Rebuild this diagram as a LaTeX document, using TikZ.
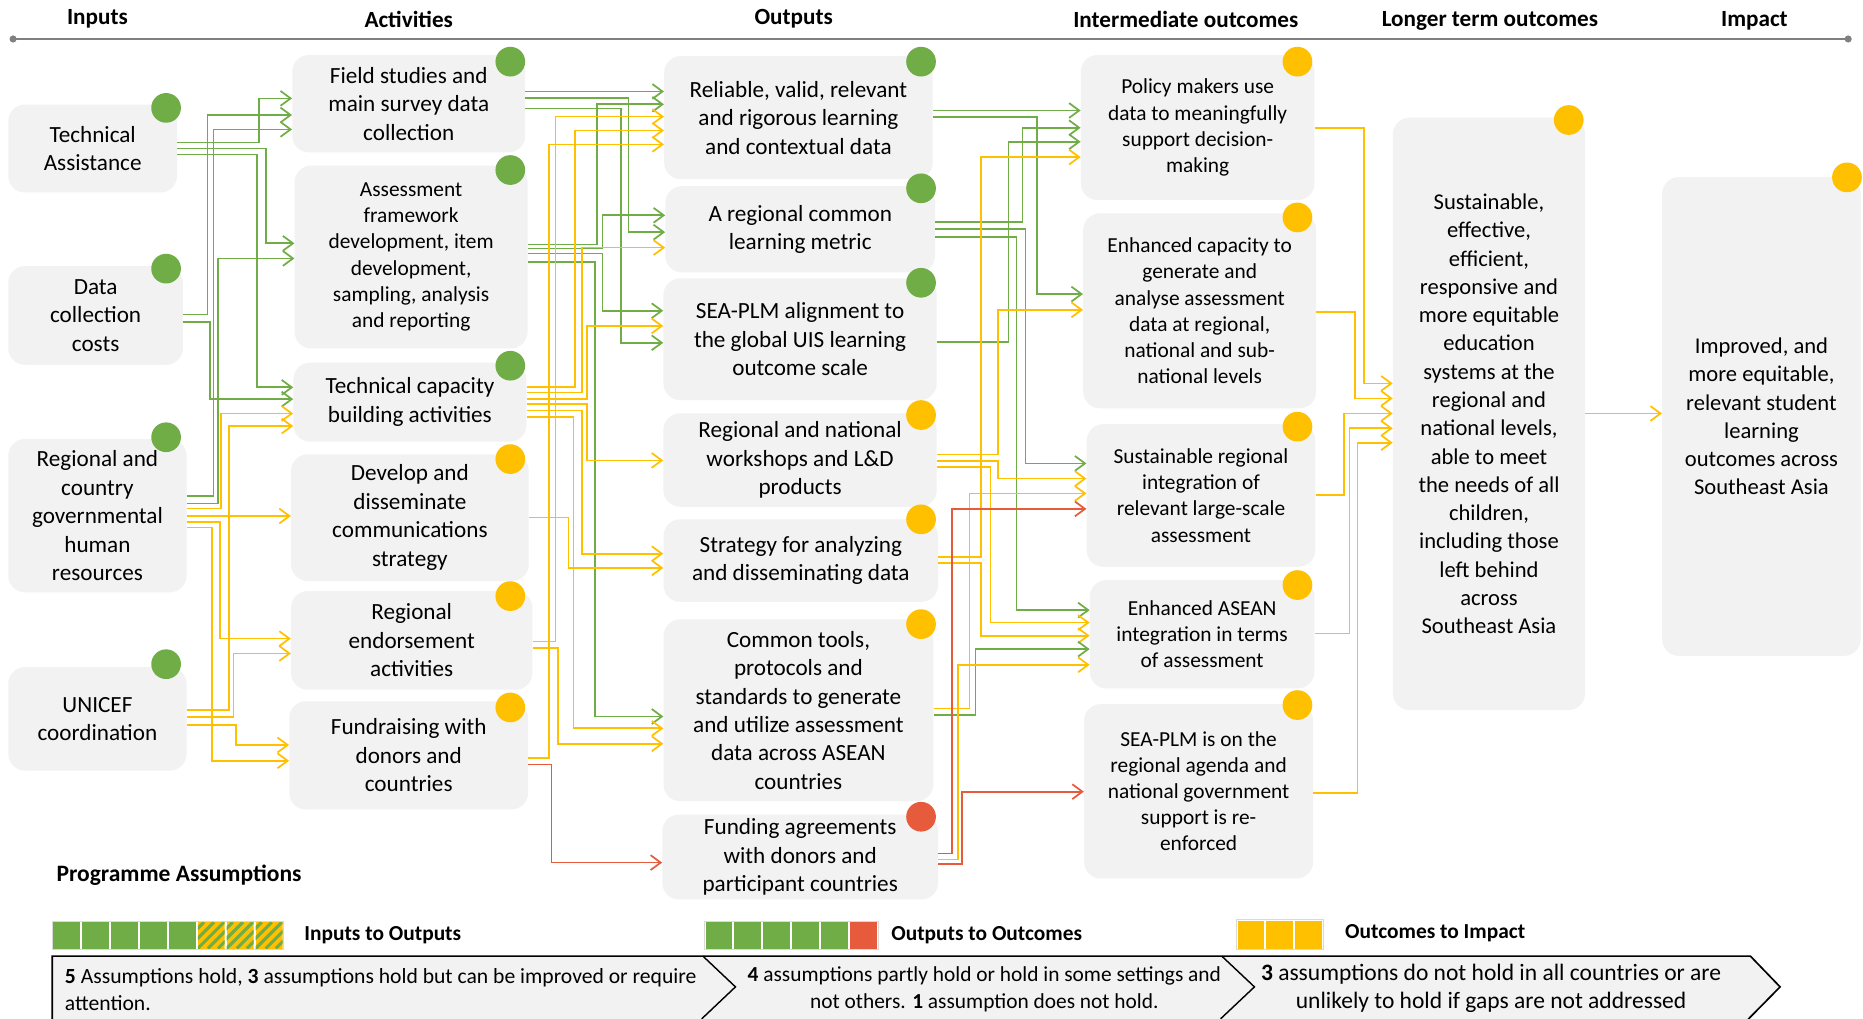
\documentclass[tikz,border=0pt]{standalone}
\usepackage{fontspec}
\setmainfont{Carlito}
\usetikzlibrary{arrows.meta}

\definecolor{tgreen}{HTML}{70AD47}
\definecolor{tyellow}{HTML}{FFC000}
\definecolor{tred}{HTML}{E55B3C}
\definecolor{boxgray}{HTML}{F2F2F2}
\definecolor{rulegray}{HTML}{808080}
\definecolor{legframe}{HTML}{D9D9D9}

\newcommand\fsz[2]{\fontsize{#1}{#2}\selectfont}
% elbow connector: colour, source, start y, bend x, end y, target
\newcommand\cnx[6]{\draw[conn,#1] (#2.east |- 0,#3) -| (#4,#5) -- (#6.west |- 0,#5);}
% straight connector: colour, source, y, target
\newcommand\cst[4]{\draw[conn,#1] (#2.east |- 0,#3) -- (#4.west |- 0,#3);}
% status dot: colour, x, y
\newcommand\stdot[3]{\fill[#1] (#2,#3) circle[radius=12.5pt];}

\tikzset{
  box/.style={fill=boxgray, rounded corners=14pt, align=center, inner sep=0pt, text=black},
  inbox/.style={box, font=\fsz{19.5}{24}},
  midbox/.style={box, font=\fsz{18}{22}},
  outbox/.style={box, font=\fsz{18}{22}},
  bigbox/.style={box, font=\fsz{19}{23.8}},
  hdr/.style={font=\bfseries\fsz{19.5}{23}, inner sep=0pt},
  legtitle/.style={font=\bfseries\fsz{18}{22}, inner sep=0pt, anchor=west},
  conn/.style={line width=1.45pt, -{Straight Barb[length=8.5pt,width=12.5pt]}},
}

\begin{document}
\begin{tikzpicture}[x=1pt,y=-1pt]
\useasboundingbox (0,0) rectangle (1568,857);
\fill[white] (0,0) rectangle (1568,857);

% ---------- column headings and timeline rule ----------
\draw[rulegray, line width=2.2pt] (11,32.8) -- (1555.5,32.8);
\fill[rulegray] (11,32.8) circle[radius=3pt];
\fill[rulegray] (1555.5,32.8) circle[radius=3pt];
\node[hdr] (h1) at (82,16) {Inputs};
\node[hdr] (h2) at (344,16) {Activities};
\node[hdr] (h3) at (668,16) {Outputs};
\node[hdr] (h4) at (998,16) {Intermediate outcomes};
\node[hdr] (h5) at (1254,17.4) {Longer term outcomes};
\node[hdr] (h6) at (1476.6,17.4) {Impact};

% ---------- inputs ----------
\node[inbox, minimum width=142pt, minimum height=74pt] (ta) at (78,125) {Technical\\Assistance};
\node[inbox, minimum width=147pt, minimum height=83pt] (dcc) at (80.5,265.5) {Data\\collection\\costs};
\node[inbox, minimum width=150pt, minimum height=129pt] (rg) at (82,434) {Regional and\\country\\governmental\\human\\resources};
\node[inbox, minimum width=150pt, minimum height=87pt] (uc) at (82,605) {UNICEF\\coordination};

% ---------- activities ----------
\node[inbox, minimum width=196pt, minimum height=82pt] (fs) at (344,87.3) {Field studies and\\main survey data\\collection};
\node[midbox, minimum width=196pt, minimum height=154pt] (af) at (346,216.3) {Assessment\\framework\\development, item\\development,\\sampling, analysis\\and reporting};
\node[inbox, minimum width=196pt, minimum height=66.5pt] (tc) at (345,338.5) {Technical capacity\\building activities};
\node[inbox, minimum width=200pt, minimum height=106.6pt] (dd) at (345,435.7) {Develop and\\disseminate\\communications\\strategy};
\node[inbox, minimum width=203pt, minimum height=83pt] (re) at (346.5,539) {Regional\\endorsement\\activities};
\node[inbox, minimum width=201pt, minimum height=91pt] (fr) at (344,635.7) {Fundraising with\\donors and\\countries};

% ---------- outputs ----------
\node[inbox, minimum width=226pt, minimum height=103.6pt] (rel) at (672,99) {Reliable, valid, relevant\\and rigorous learning\\and contextual data};
\node[inbox, minimum width=227pt, minimum height=72.5pt] (rcm) at (673.5,193) {A regional common\\learning metric};
\node[inbox, minimum width=230pt, minimum height=102.4pt] (sea) at (673.4,285.5) {SEA-PLM alignment to\\the global UIS learning\\outcome scale};
\node[inbox, minimum width=230pt, minimum height=78.6pt] (ws) at (673.4,387.2) {Regional and national\\workshops and L\&D\\products};
\node[inbox, minimum width=231pt, minimum height=69.4pt] (st) at (674,471.8) {Strategy for analyzing\\and disseminating data};
\node[box, font=\fsz{19.5}{23.85}, minimum width=227pt, minimum height=153pt] (ct) at (672,597.8) {Common tools,\\protocols and\\standards to generate\\and utilize assessment\\data across ASEAN\\countries};
\node[inbox, minimum width=232pt, minimum height=71.5pt] (fa) at (673.5,721.3) {Funding agreements\\with donors and\\participant countries};

% ---------- intermediate outcomes ----------
\node[outbox, minimum width=196.6pt, minimum height=122pt] (pm) at (1008,107.3) {Policy makers use\\data to meaningfully\\support decision-\\making};
\node[outbox, minimum width=196pt, minimum height=164pt] (ec) at (1009.7,261.6) {Enhanced capacity to\\generate and\\analyse assessment\\data at regional,\\national and sub-\\national levels};
\node[outbox, minimum width=192.4pt, minimum height=120pt] (sr) at (1010.8,417) {Sustainable regional\\integration of\\relevant large-scale\\assessment};
\node[outbox, minimum width=189pt, minimum height=91.2pt] (ea) at (1011.8,533.8) {Enhanced ASEAN\\integration in terms\\of assessment};
\node[outbox, minimum width=192.8pt, minimum height=146.7pt] (sp) at (1008.8,666) {SEA-PLM is on the\\regional agenda and\\national government\\support is re-\\enforced};

% ---------- longer term outcome and impact ----------
\node[bigbox, minimum width=161.7pt, minimum height=498.6pt] (lt) at (1253.2,348.3) {Sustainable,\\effective,\\efficient,\\responsive and\\more equitable\\education\\systems at the\\regional and\\national levels,\\able to meet\\the needs of all\\children,\\including those\\left behind\\across\\Southeast Asia};
\node[bigbox, minimum width=167pt, minimum height=403pt] (im) at (1482.5,350.5) {Improved, and\\more equitable,\\relevant student\\learning\\outcomes across\\Southeast Asia};

% ---------- status dots ----------
\stdot{tgreen}{139.8}{90.8}
\stdot{tgreen}{139.8}{226.1}
\stdot{tgreen}{139.8}{368}
\stdot{tgreen}{139.8}{559}
\stdot{tgreen}{429.5}{51.9}
\stdot{tgreen}{429.5}{143.1}
\stdot{tgreen}{429.5}{307.8}
\stdot{tyellow}{429.5}{386.4}
\stdot{tyellow}{429.5}{501.7}
\stdot{tyellow}{429.5}{595.4}
\stdot{tgreen}{775.2}{51.9}
\stdot{tgreen}{775.2}{158.5}
\stdot{tgreen}{775.2}{238}
\stdot{tyellow}{775.2}{349.3}
\stdot{tyellow}{775.2}{437.1}
\stdot{tyellow}{775.2}{525.3}
\stdot{tred}{775.2}{687.4}
\stdot{tyellow}{1092}{51.9}
\stdot{tyellow}{1092}{183}
\stdot{tyellow}{1092}{359.1}
\stdot{tyellow}{1092}{492.4}
\stdot{tyellow}{1092}{593.4}
\stdot{tyellow}{1320.3}{101}
\stdot{tyellow}{1554.5}{149.3}

% ---------- inputs -> activities ----------
\cnx{tgreen}{ta}{120}{218}{82.8}{fs}
\cnx{tgreen}{ta}{125}{223.6}{204.8}{af}
\cnx{tgreen}{ta}{130}{216}{326}{tc}
\cnx{tgreen}{dcc}{264.6}{174.7}{96.8}{fs}
\cnx{tgreen}{dcc}{270.8}{176.6}{335.9}{tc}
\cnx{tgreen}{rg}{417.5}{179.6}{108.9}{fs}
\cnx{tgreen}{rg}{423.7}{183.2}{217.5}{af}
\cnx{tyellow}{rg}{427.9}{186.2}{348}{tc}
\cst{tyellow}{rg}{434.3}{dd}
\cnx{tyellow}{rg}{439.1}{185}{537.5}{re}
\cnx{tyellow}{rg}{443.9}{178.5}{640.3}{fr}
\cnx{tyellow}{uc}{597.6}{192.8}{358.6}{tc}
\cnx{tyellow}{uc}{603.3}{196.5}{550}{re}
\cnx{tyellow}{uc}{610.3}{198.5}{627}{fr}

% ---------- activities -> outputs ----------
\cst{tgreen}{fs}{77}{rel}
\cnx{tgreen}{fs}{82.5}{529}{195.4}{rcm}
\cnx{tgreen}{fs}{91.2}{522.7}{288.5}{sea}
\cnx{tgreen}{af}{205.7}{502.2}{87.8}{rel}
\cnx{tgreen}{af}{209.2}{507}{181.2}{rcm}
\cnx{tgreen}{af}{213.4}{507}{261.5}{sea}
\cnx{tgreen}{af}{220.3}{500.8}{603}{ct}
\cnx{tyellow}{tc}{326}{484}{109.8}{rel}
\cnx{tyellow}{tc}{330.4}{489.6}{208.4}{rcm}
\cnx{tyellow}{tc}{335.6}{493.8}{274.3}{sea}
\cnx{tyellow}{tc}{340}{493.8}{387.5}{ws}
\cnx{tyellow}{tc}{345.6}{489.6}{466}{st}
\cnx{tyellow}{tc}{350.8}{482.6}{613}{ct}
\cnx{tyellow}{dd}{435.5}{478.4}{478}{st}
\cnx{tyellow}{re}{540}{467.5}{98.1}{rel}
\cnx{tyellow}{re}{545.5}{469.8}{626}{ct}
\cnx{tyellow}{fr}{638}{461.8}{121.5}{rel}
\cnx{tred}{fr}{643.5}{464.2}{726}{fa}

% ---------- outputs -> intermediate outcomes ----------
\cst{tgreen}{rel}{93}{pm}
\cnx{tgreen}{rel}{98.2}{873}{247.5}{ec}
\cnx{tgreen}{rcm}{186.6}{860.5}{107.5}{pm}
\cnx{tgreen}{rcm}{193}{863}{390}{sr}
\cnx{tgreen}{rcm}{199.2}{855.5}{513.5}{ea}
\cnx{tgreen}{sea}{287.6}{848.8}{119.3}{pm}
\cnx{tyellow}{ws}{382.5}{839.8}{260.8}{ec}
\cnx{tyellow}{ws}{388}{839.8}{402.8}{sr}
\cnx{tyellow}{ws}{392.8}{833.7}{524}{ea}
\cnx{tyellow}{st}{468.6}{825.5}{132.2}{pm}
\cnx{tyellow}{st}{473.6}{825.5}{535}{ea}
\cnx{tyellow}{ct}{596.2}{816}{415.3}{sr}
\cnx{tgreen}{ct}{601.9}{821}{546.3}{ea}
\cnx{tred}{fa}{718.3}{801.3}{428.3}{sr}
\cnx{tyellow}{fa}{723.3}{806.2}{559.5}{ea}
\cnx{tred}{fa}{727}{809.5}{666.3}{sp}

% ---------- intermediate -> longer term -> impact ----------
\cnx{tyellow}{pm}{107.5}{1148}{322.7}{lt}
\cnx{tyellow}{ec}{262.3}{1140.2}{335.3}{lt}
\cnx{tyellow}{sr}{416.7}{1131}{348}{lt}
\cnx{tyellow}{ea}{533.1}{1135.7}{360.5}{lt}
\cnx{tyellow}{sp}{667.2}{1142.6}{372.6}{lt}
\cst{tyellow}{lt}{348}{im}

% ---------- programme assumptions legend ----------
\node[font=\bfseries\fsz{19.8}{23}, inner sep=0pt, anchor=west] (pa) at (47.4,736.6) {Programme Assumptions};

% inputs to outputs: 5 hold, 3 hold with attention
\foreach \i in {0,...,4}
  \fill[tgreen] ({44.8+\i*24.33},776.1) rectangle ++(22.7,22.2);
\foreach \i in {5,6,7}{
  \begin{scope}
    \clip ({44.8+\i*24.33},776.1) rectangle ++(22.7,22.2);
    \fill[tyellow] ({44.8+\i*24.33},776.1) rectangle ++(22.7,22.2);
    \foreach \k in {-3,...,3}
      \draw[tgreen, line width=2.6pt] ({44.8+\i*24.33+\k*8.5},798.3) -- ++(22.2,-22.2);
  \end{scope}
}
\draw[legframe, line width=0.8pt] (44,775.3) rectangle (238.6,799.1);
\node[legtitle] (l1) at (256,787) {Inputs to Outputs};

% outputs to outcomes: 5 partly hold, 1 does not hold
\foreach \i in {0,...,4}
  \fill[tgreen] ({593.8+\i*24.33},776.1) rectangle ++(22.7,22.2);
\fill[tred] ({593.8+5*24.33},776.1) rectangle ++(22.7,22.2);
\draw[legframe, line width=0.8pt] (593,775.3) rectangle (739,799.1);
\node[legtitle] (l2) at (750,787) {Outputs to Outcomes};

% outcomes to impact: 3 unlikely to hold
\foreach \i in {0,1,2}
  \fill[tyellow] ({1041.6+\i*24.23},775) rectangle ++(22.6,23.3);
\draw[legframe, line width=0.8pt] (1040.8,774.2) rectangle (1113.5,799.1);
\node[legtitle] (l3) at (1132,785.6) {Outcomes to Impact};

% chevron banner
\fill[boxgray] (44,858) -- (44,804.7) -- (1473.2,804.7) -- (1498.2,830.6) -- (1471.2,858) -- cycle;
\draw[black, line width=1.4pt] (44,858) -- (44,804.7) -- (1473.2,804.7) -- (1498.2,830.6) -- (1471.2,858);
\draw[black, line width=1.2pt] (591.6,804.7) -- (619,830.6) -- (590.6,857.5);
\draw[black, line width=1.2pt] (1028.3,804.7) -- (1055.8,830.6) -- (1027.3,857.5);

\node[font=\fsz{18.2}{23}, align=left, inner sep=0pt, anchor=west] (b1) at (54.5,832.8)
  {\textbf{5} Assumptions hold, \textbf{3} assumptions hold but can be improved or require\\attention.};
\node[font=\fsz{18}{23}, align=center, inner sep=0pt] (b2) at (828.5,832.6)
  {\textbf{4} assumptions partly hold or hold in some settings and\\not others. \textbf{1} assumption does not hold.};
\node[font=\fsz{19.8}{24}, align=center, inner sep=0pt] (b3) at (1255,832)
  {\textbf{3} assumptions do not hold in all countries or are\\unlikely to hold if gaps are not addressed};

\end{tikzpicture}
\end{document}
